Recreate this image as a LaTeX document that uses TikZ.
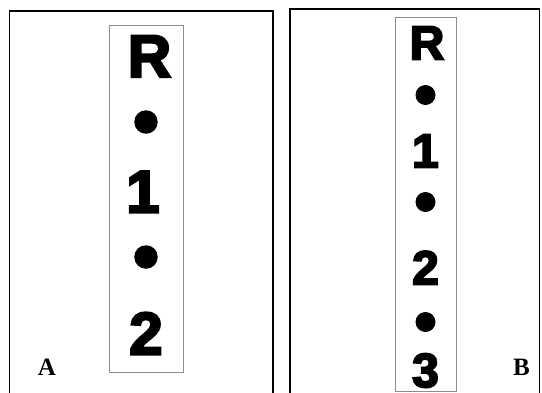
\documentclass[tikz,border=0pt]{standalone}
\usepackage{fontspec}
\newfontfamily\heavy[FakeBold=4]{Liberation Sans Bold}
\newfontfamily\labfont{Liberation Serif}
\begin{document}
\begin{tikzpicture}[x=1pt,y=-1pt,
  outerbox/.style={draw=black,line width=1.6pt},
  innerbox/.style={draw=black!45,line width=1pt},
  bigA/.style={anchor=base,inner sep=0pt,text depth=0pt,font=\heavy\fontsize{60}{60}\selectfont},
  bigB/.style={anchor=base,inner sep=0pt,text depth=0pt,font=\heavy\fontsize{48}{48}\selectfont},
  dotA/.style={circle,fill=black,inner sep=0pt,minimum size=23.5pt},
  dotB/.style={circle,fill=black,inner sep=0pt,minimum size=20pt},
  lab/.style={anchor=base,inner sep=0pt,font=\labfont\bfseries\fontsize{25}{25}\selectfont}]
\useasboundingbox (0,0) rectangle (542,392);
% outer frames
\draw[outerbox] (9.5,400) |- (273,11) -- (273,400);
\draw[outerbox] (290,400) |- (539.5,9) -- (539.5,400);
% inner boxes
\draw[innerbox] (109,25.5) rectangle (183,372);
\draw[innerbox] (395,17) rectangle (456,391);
% column A
\node[bigA] (aR) at (149.5,77) {R};
\node[dotA] (ad1) at (146,122) {};
\node[bigA] (a1) at (143,212.5) {1};
\node[dotA] (ad2) at (146,257) {};
\node[bigA] (a2) at (146,354.5) {2};
% column B
\node[bigB] (bR) at (427,59.5) {R};
\node[dotB] (bd1) at (425.5,95) {};
\node[bigB] (b1) at (425.5,167.5) {1};
\node[dotB] (bd2) at (425.5,202) {};
\node[bigB] (b2) at (425.5,284.5) {2};
\node[dotB] (bd3) at (425.5,322) {};
\node[bigB] (b3) at (425.5,387) {3};
% labels
\node[lab] (la) at (47,375) {A};
\node[lab] (lb) at (521.5,375) {B};
\end{tikzpicture}
\end{document}
